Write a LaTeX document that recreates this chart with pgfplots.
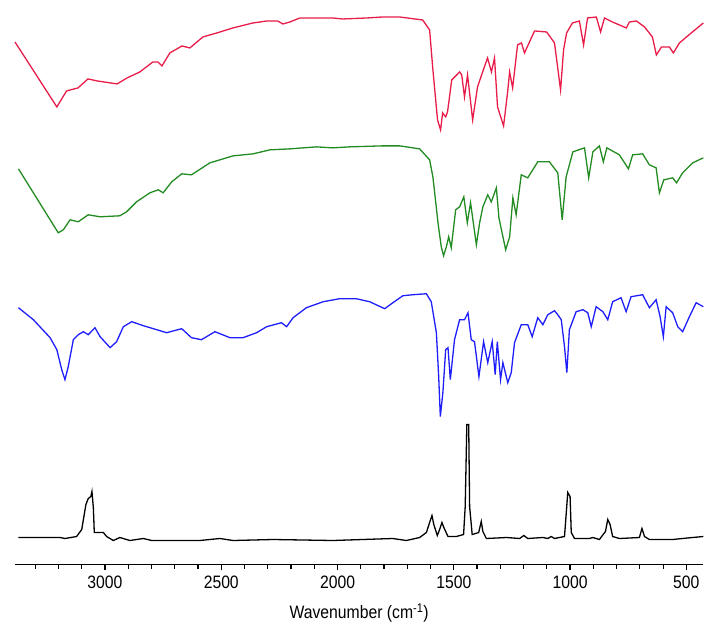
\documentclass[border=0pt]{standalone}
\usepackage{fontspec}
\setmainfont{Liberation Sans}[FakeStretch=0.875]
\usepackage{pgfplots}
\pgfplotsset{compat=1.18}
\definecolor{specred}{RGB}{232,28,72}
\definecolor{specgreen}{RGB}{34,139,34}
\definecolor{specblue}{RGB}{30,30,250}
\begin{document}
\begin{tikzpicture}
\begin{axis}[
    scale only axis,
    width=689bp, height=565bp,
    xmin=427, xmax=3387, x dir=reverse,
    ymin=0, ymax=565,
    axis x line=bottom, axis y line=none,
    x axis line style={-, line width=1.2bp},
    xtick={500,1000,...,3000},
    minor xtick={500,600,...,3300},
    tick align=outside,
    major tick length=6bp, minor tick length=4.5bp,
    every tick/.append style={black, line width=1.2bp},
    /pgf/number format/1000 sep={},
    /pgf/number format/assume math mode=true,
    tick label style={font=\fontsize{18bp}{21bp}\selectfont},
    xticklabel style={yshift=-2bp},
    xlabel={Wavenumber (cm\textsuperscript{-1})},
    xlabel style={font=\fontsize{18bp}{21bp}\selectfont, yshift=-8bp},
    clip=false,
  ]
  % red spectrum (top)
  \addplot[specred, line width=1.3bp] coordinates {
    (3387,523) (3207,458) (3165,474) (3116,477) (3073,486) (3034,484)
    (2948,481) (2905,487) (2850,493) (2794,503) (2772,503) (2755,499)
    (2721,512) (2669,519) (2635,517) (2579,528) (2519,532) (2450,537)
    (2364,542) (2304,544) (2257,544) (2235,541) (2205,543) (2162,547)
    (2021,547) (1978,546) (1874,547) (1806,548) (1733,548) (1634,545)
    (1604,535) (1591,498) (1570,445) (1557,435) (1548,452) (1535,448)
    (1527,453) (1509,485) (1475,493) (1466,490) (1454,468) (1441,490)
    (1419,445) (1398,478) (1376,493) (1355,507) (1338,493) (1325,507)
    (1312,458) (1286,439) (1269,472) (1260,493) (1247,477) (1226,520)
    (1209,522) (1196,512) (1153,534) (1101,533) (1067,522) (1041,475)
    (1028,515) (1015,532) (990,542) (960,544) (942,520) (925,547)
    (887,548) (869,533) (852,547) (818,543) (758,537) (745,543)
    (715,544) (680,538) (646,528) (629,510) (607,518) (573,518)
    (556,512) (530,522) (474,533) (427,542)
  };
  % green spectrum
  \addplot[specgreen, line width=1.3bp] coordinates {
    (3372,396) (3201,332) (3179,335) (3150,345) (3115,343) (3072,350)
    (3021,348) (2936,349) (2907,353) (2864,363) (2807,372) (2771,375)
    (2750,372) (2713,383) (2670,391) (2628,390) (2549,402) (2449,409)
    (2363,411) (2291,415) (2205,416) (2091,418) (2021,417) (1948,418)
    (1806,419) (1733,419) (1647,416) (1604,405) (1590,388) (1568,342)
    (1554,318) (1544,309) (1532,318) (1522,328) (1511,317) (1492,355)
    (1475,358) (1457,368) (1442,342) (1428,362) (1403,320) (1389,342)
    (1375,358) (1354,370) (1339,363) (1317,377) (1306,347) (1277,315)
    (1260,328) (1246,367) (1232,350) (1210,390) (1182,387) (1139,403)
    (1089,403) (1053,392) (1034,345) (1017,388) (988,413) (938,417)
    (920,387) (902,413) (874,419) (857,403) (842,417) (788,410)
    (749,396) (731,410) (688,411) (659,400) (630,397) (616,372)
    (597,385) (559,387) (542,382) (516,392) (473,402) (427,407)
  };
  % blue spectrum
  \addplot[specblue, line width=1.3bp] coordinates {
    (3372,257) (3308,245) (3236,227) (3207,215) (3186,195) (3172,185)
    (3158,198) (3136,225) (3115,230) (3093,233) (3072,230) (3043,237)
    (3021,228) (2978,217) (2950,223) (2921,238) (2885,243) (2835,239)
    (2792,236) (2735,232) (2670,236) (2628,227) (2585,225) (2527,233)
    (2463,227) (2406,227) (2348,232) (2305,238) (2241,242) (2219,238)
    (2191,247) (2134,257) (2062,263) (1991,266) (1919,266) (1862,263)
    (1797,256) (1768,261) (1719,269) (1676,270) (1618,271) (1597,263)
    (1575,232) (1565,188) (1558,148) (1547,172) (1535,215) (1525,217)
    (1515,185) (1497,225) (1475,245) (1454,245) (1439,252) (1425,225)
    (1411,223) (1392,188) (1372,223) (1354,202) (1335,223) (1322,190)
    (1313,223) (1299,185) (1289,202) (1268,182) (1253,192) (1239,222)
    (1210,240) (1182,240) (1163,228) (1139,247) (1117,240) (1096,250)
    (1067,254) (1053,250) (1038,245) (1024,218) (1014,192) (1003,235)
    (974,253) (945,255) (924,252) (909,238) (888,258) (859,253)
    (838,245) (817,263) (781,267) (759,253) (738,268) (688,270)
    (659,257) (630,265) (613,248) (599,228) (587,258) (559,252)
    (537,238) (516,233) (487,248) (458,262) (427,258)
  };
  % black spectrum (bottom)
  \addplot[black, line width=1.3bp] coordinates {
    (3372,27) (3193,27) (3172,26) (3122,28) (3100,35) (3082,60)
    (3072,66) (3061,68) (3056,73) (3050,57) (3046,32) (3029,32)
    (3007,32) (2993,28) (2964,24) (2936,27) (2893,24) (2835,26)
    (2799,24) (2592,24) (2506,26) (2449,24) (2277,25) (2021,24)
    (1763,26) (1704,24) (1647,27) (1618,32) (1604,42) (1594,49)
    (1586,40) (1571,29) (1561,35) (1551,42) (1543,37) (1525,28)
    (1489,28) (1458,30) (1451,58) (1444,140) (1436,140) (1432,58)
    (1421,30) (1393,32) (1382,43) (1375,33) (1360,26) (1274,27)
    (1217,26) (1199,29) (1182,26) (1117,27) (1096,26) (1081,28)
    (1067,26) (1024,28) (1010,72) (1000,68) (995,32) (981,26)
    (917,26) (902,27) (874,25) (848,33) (838,45) (828,40)
    (817,28) (788,26) (702,27) (691,36) (680,28) (659,25)
    (559,25) (473,27) (427,28)
  };
\end{axis}
\path (current axis.south west) ++(-15bp,0) (current axis.north west) ++(-15bp,0);
\end{tikzpicture}
\end{document}
